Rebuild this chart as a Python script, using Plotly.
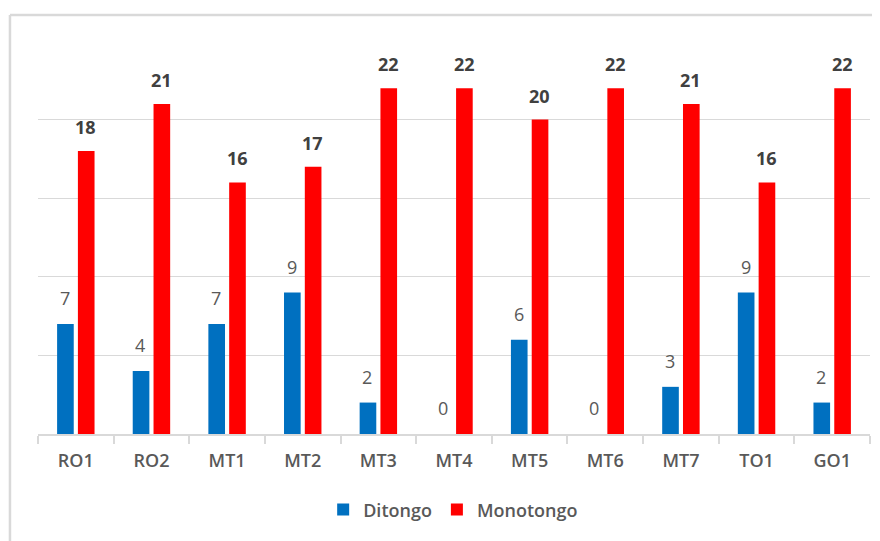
import plotly.graph_objects as go

categories = ["RO1", "RO2", "MT1", "MT2", "MT3", "MT4", "MT5", "MT6", "MT7", "TO1", "GO1"]
ditongo = [7, 4, 7, 9, 2, 0, 6, 0, 3, 9, 2]
monotongo = [18, 21, 16, 17, 22, 22, 20, 22, 21, 16, 22]

BLUE = "#0070C0"
RED = "#FF0000"
GRID = "#D9D9D9"
FONT = "Open Sans"

fig = go.Figure()
fig.add_trace(go.Bar(name="Ditongo", x=categories, y=ditongo, marker_color=BLUE,
                     marker_line_width=0))
fig.add_trace(go.Bar(name="Monotongo", x=categories, y=monotongo, marker_color=RED,
                     marker_line_width=0))

# data labels
for c, v in zip(categories, ditongo):
    fig.add_annotation(x=c, y=v, text=str(v), showarrow=False, xshift=-11, yshift=26,
                       font=dict(family=FONT, size=18, color="#595959"))
for c, v in zip(categories, monotongo):
    fig.add_annotation(x=c, y=v, text=str(v), showarrow=False, xshift=10, yshift=24,
                       font=dict(family=FONT, size=18, color="#404040", weight="bold"))

# chart border (left and top edges visible)
fig.add_shape(type="line", xref="paper", yref="paper", x0=-0.0337, x1=1.05, y0=1.066, y1=1.066,
              line=dict(color=GRID, width=2.5))
fig.add_shape(type="line", xref="paper", yref="paper", x0=-0.0337, x1=-0.0337, y0=-0.4, y1=1.066,
              line=dict(color=GRID, width=2.5))

fig.update_layout(
    width=880, height=541,
    margin=dict(l=30, r=18, t=33, b=115),
    paper_bgcolor="white", plot_bgcolor="white",
    barmode="group", bargap=0.45, bargroupgap=0.2,
    font=dict(family=FONT, color="#595959"),
    showlegend=True,
    legend=dict(orientation="h", x=0.499, xanchor="center", y=-0.193, yanchor="middle",
                font=dict(family=FONT, size=18, color="#595959", weight=600),
                itemclick=False),
)
fig.update_xaxes(
    type="category", showgrid=False, showline=True, linecolor=GRID, linewidth=1.5,
    ticks="outside", tickson="boundaries", ticklen=8, tickcolor=GRID, tickwidth=1.5,
    ticklabelstandoff=10,
    tickfont=dict(family=FONT, size=18, color="#595959", weight=600),
)
fig.update_yaxes(
    range=[0, 25], dtick=5, showgrid=True, gridcolor=GRID, gridwidth=1.3,
    showticklabels=False, zeroline=False, showline=False,
)

fig.write_html("out.html")
